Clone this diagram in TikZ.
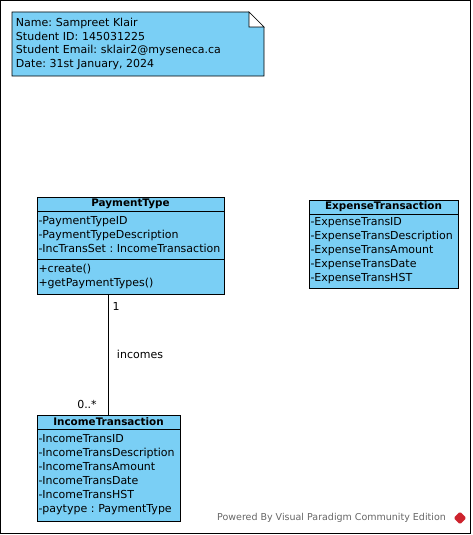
\documentclass[tikz,border=0pt]{standalone}
\usepackage{fontspec}
\setmainfont{DejaVu Sans}
\frenchspacing
\usetikzlibrary{positioning, backgrounds, shapes.geometric}
\definecolor{umlblue}{RGB}{122,207,245}
\definecolor{vpred}{RGB}{205,35,45}

\tikzstyle{head} = [rectangle, draw = black, line width = 0.7pt, fill = umlblue, outer sep = 0pt, minimum height = 14pt, inner sep = 0pt, text centered, font = \fontsize{10.4}{12}\selectfont\bfseries]
\tikzstyle{body} = [rectangle, draw = black, line width = 0.7pt, fill = umlblue, outer sep = 0pt, inner xsep = 1.5pt, inner ysep = 0pt, align = left, font = \fontsize{11}{14}\selectfont]
\tikzstyle{notebox} = [rectangle, inner xsep = 4pt, inner ysep = 0pt, outer sep = 0pt, minimum width = 252pt, minimum height = 64pt, text width = 244pt, align = left, font = \fontsize{11}{13.5}\selectfont]
\tikzstyle{assoc} = [inner sep = 0pt, font = \fontsize{11}{13}\selectfont]
\tikzstyle{line} = [line width = 0.7pt, -, draw = black]

\begin{document}
\begin{tikzpicture}[x = 1pt, y = -1pt]
    \useasboundingbox (0, 0) rectangle (472, 535);
    \draw[line width = 1pt] (0.5, 0.5) rectangle (470.5, 533.5);
    % student note
    \node(note)[notebox] at (138, 44) {Name: Sampreet Klair\\Student ID: 145031225\\Student Email: sklair2@myseneca.ca\\Date: 31st January, 2024};
    \begin{scope}[on background layer]
        \draw[line, fill = umlblue] (note.south west) -- (note.north west) -- ([xshift = -15pt]note.north east) -- ([yshift = -15pt]note.north east) -- (note.south east) -- cycle;
        \draw[line, fill = white] ([xshift = -15pt]note.north east) -- ([xshift = -15pt, yshift = -15pt]note.north east) -- ([yshift = -15pt]note.north east) -- cycle;
    \end{scope}
    % classes
    \node(ptype)[head, minimum width = 187pt] at (130.5, 204) {PaymentType};
    \node(ptype_attr)[body, text width = 184pt, minimum height = 48pt, below = 0pt of ptype] {-PaymentTypeID\\-PaymentTypeDescription\\-IncTransSet : IncomeTransaction};
    \node(ptype_ops)[body, text width = 184pt, minimum height = 35pt, below = 0pt of ptype_attr] {+create()\\+getPaymentTypes()};
    \node(expense)[head, minimum width = 149pt] at (383.5, 207) {ExpenseTransaction};
    \node(expense_attr)[body, text width = 146pt, minimum height = 74pt, below = 0pt of expense] {-ExpenseTransID\\-ExpenseTransDescription\\-ExpenseTransAmount\\-ExpenseTransDate\\-ExpenseTransHST};
    \node(income)[head, minimum width = 143pt] at (108.5, 422) {IncomeTransaction};
    \node(income_attr)[body, text width = 140pt, minimum height = 92pt, below = 0pt of income] {-IncomeTransID\\-IncomeTransDescription\\-IncomeTransAmount\\-IncomeTransDate\\-IncomeTransHST\\-paytype : PaymentType};
    % association
    \draw[line] (income.north) -- (income.north |- ptype_ops.south);
    \node(one)[assoc] at (116, 306) {1};
    \node(incomes)[assoc] at (140, 354) {incomes};
    \node(many)[assoc] at (87, 404) {0..*};
    % watermark
    \node(powered)[inner sep = 0pt, text = black!60, font = \fontsize{9.5}{11}\selectfont] at (331.5, 518) {Powered By Visual Paradigm Community Edition};
    \node(vplogo)[diamond, fill = vpred, rounded corners = 1.5pt, minimum size = 13pt, inner sep = 0pt] at (460, 518) {};
\end{tikzpicture}
\end{document}
